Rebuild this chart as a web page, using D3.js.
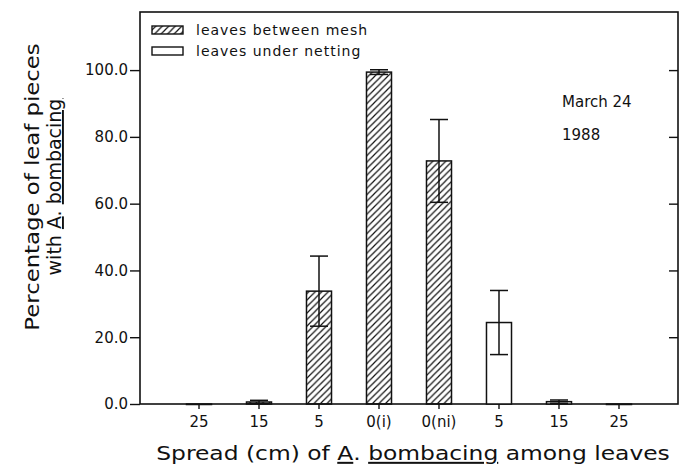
<!DOCTYPE html>
<html>
<head>
<meta charset="utf-8">
<script src="https://cdn.jsdelivr.net/npm/d3@7"></script>
<style>
  body { margin: 0; background: #fff; }
  svg text { font-family: "DejaVu Sans", sans-serif; fill: #111; }
</style>
</head>
<body>
<div id="chart"></div>
<script>
// spread categories along the x axis (left = between mesh, right = under netting)
const spreadLabels = ["25", "15", "5", "0(i)", "0(ni)", "5", "15", "25"];
const treatment = ["mesh", "mesh", "mesh", "mesh", "mesh", "netting", "netting", "netting"];
const meanPct = [0, 0.6, 33.8, 99.4, 72.8, 24.4, 0.7, 0];
const errPct = [0, 0.5, 10.5, 0.7, 12.4, 9.6, 0.5, 0];
const yTicks = [0, 20, 40, 60, 80, 100];
const legendItems = [
  { key: "mesh", label: "leaves between mesh" },
  { key: "netting", label: "leaves under netting" }
];

const width = 688, height = 473;
const margin = { top: 12, right: 10, bottom: 69, left: 140 };
const innerW = width - margin.left - margin.right;
const innerH = height - margin.top - margin.bottom;

const svg = d3.select("#chart").append("svg")
  .attr("width", width)
  .attr("height", height);

// hatch pattern for the mesh bars
const defs = svg.append("defs");
const pat = defs.append("pattern")
  .attr("id", "hatch")
  .attr("patternUnits", "userSpaceOnUse")
  .attr("width", 6.5).attr("height", 6.5);
pat.append("path")
  .attr("d", "M-1,1 l2,-2 M0,6.5 l6.5,-6.5 M5.5,7.5 l2,-2")
  .attr("stroke", "#111")
  .attr("stroke-width", 1.2);

const g = svg.append("g")
  .attr("transform", `translate(${margin.left},${margin.top})`);

const x = d3.scaleBand()
  .domain(d3.range(spreadLabels.length))
  .range([0, innerW])
  .paddingInner(0.583)
  .paddingOuter(0.775);

const y = d3.scaleLinear()
  .domain([0, 117.4])
  .range([innerH, 0]);

// frame
g.append("rect")
  .attr("width", innerW)
  .attr("height", innerH)
  .attr("fill", "none")
  .attr("stroke", "#111")
  .attr("stroke-width", 1.6);

// left axis, ticks outside
const yAxis = g.append("g")
  .call(d3.axisLeft(y).tickValues(yTicks).tickFormat(d3.format(".1f")).tickSize(10).tickPadding(2));
yAxis.select(".domain").remove();
yAxis.selectAll("line").attr("stroke", "#111").attr("stroke-width", 1.4);
yAxis.selectAll("text").style("font-size", "15px").attr("fill", "#111");

// right axis, ticks inside
const yAxisR = g.append("g")
  .attr("transform", `translate(${innerW},0)`)
  .call(d3.axisLeft(y).tickValues(yTicks.slice(1)).tickFormat("").tickSize(9));
yAxisR.select(".domain").remove();
yAxisR.selectAll("line").attr("stroke", "#111").attr("stroke-width", 1.4);

// bottom axis
const xAxis = g.append("g")
  .attr("transform", `translate(0,${innerH})`)
  .call(d3.axisBottom(x).tickFormat(i => spreadLabels[i]).tickSize(5).tickPadding(7));
xAxis.select(".domain").remove();
xAxis.selectAll("line").attr("stroke", "#111").attr("stroke-width", 1.4);
xAxis.selectAll("text").style("font-size", "15px").attr("fill", "#111");

// bars
const idx = d3.range(spreadLabels.length);
g.selectAll(".bar")
  .data(idx)
  .join("rect")
  .attr("class", "bar")
  .attr("x", i => x(i))
  .attr("width", x.bandwidth())
  .attr("y", i => y(meanPct[i]))
  .attr("height", i => Math.max(0.5, innerH - y(meanPct[i])))
  .attr("fill", i => treatment[i] === "mesh" ? "url(#hatch)" : "#fff")
  .attr("stroke", "#111")
  .attr("stroke-width", 1.5);

// error bars
const capW = 18;
const eb = g.selectAll(".err")
  .data(idx.filter(i => errPct[i] > 0))
  .join("g")
  .attr("class", "err")
  .attr("stroke", "#111")
  .attr("stroke-width", 1.5);
eb.append("line")
  .attr("x1", i => x(i) + x.bandwidth() / 2)
  .attr("x2", i => x(i) + x.bandwidth() / 2)
  .attr("y1", i => y(meanPct[i] - errPct[i]))
  .attr("y2", i => y(meanPct[i] + errPct[i]));
eb.append("line")
  .attr("x1", i => x(i) + x.bandwidth() / 2 - capW / 2)
  .attr("x2", i => x(i) + x.bandwidth() / 2 + capW / 2)
  .attr("y1", i => y(meanPct[i] + errPct[i]))
  .attr("y2", i => y(meanPct[i] + errPct[i]));
eb.append("line")
  .attr("x1", i => x(i) + x.bandwidth() / 2 - capW / 2)
  .attr("x2", i => x(i) + x.bandwidth() / 2 + capW / 2)
  .attr("y1", i => y(Math.max(0, meanPct[i] - errPct[i])))
  .attr("y2", i => y(Math.max(0, meanPct[i] - errPct[i])));

// legend
const legend = g.append("g").attr("transform", "translate(12,18)");
const li = legend.selectAll("g")
  .data(legendItems)
  .join("g")
  .attr("transform", (d, i) => `translate(0,${i * 21})`);
li.append("rect")
  .attr("width", 31).attr("height", 8).attr("y", -4)
  .attr("fill", d => d.key === "mesh" ? "url(#hatch)" : "#fff")
  .attr("stroke", "#111").attr("stroke-width", 1.4);
li.append("text")
  .attr("x", 44).attr("dy", "0.35em")
  .style("font-size", "14px")
  .style("letter-spacing", "1px")
  .text(d => d.label);

// date note
g.append("text").attr("x", 422).attr("y", 95).style("font-size", "15px").text("March 24");
g.append("text").attr("x", 422).attr("y", 128).style("font-size", "15px").text("1988");

// y title (stretched along the text to mimic the wide original face)
const yt = svg.append("g").attr("transform", "translate(0,187) rotate(-90)");
yt.append("text").attr("transform", "translate(0,39) scale(1.2,1)")
  .attr("text-anchor", "middle").style("font-size", "19px")
  .text("Percentage of leaf pieces");
const yt2 = yt.append("text").attr("transform", "translate(0,61) scale(1.0,1)")
  .attr("text-anchor", "middle").style("font-size", "19px");
yt2.append("tspan").text("with ");
yt2.append("tspan").style("text-decoration", "underline").text("A");
yt2.append("tspan").text(". ");
yt2.append("tspan").style("text-decoration", "underline").text("bombacing");

// x title
const xt = svg.append("text")
  .attr("transform", "translate(413,460) scale(1.17,1)")
  .attr("text-anchor", "middle")
  .style("font-size", "20px");
xt.append("tspan").text("Spread (cm) of ");
xt.append("tspan").style("text-decoration", "underline").text("A");
xt.append("tspan").text(". ");
xt.append("tspan").style("text-decoration", "underline").text("bombacing");
xt.append("tspan").text(" among leaves");
</script>
</body>
</html>
